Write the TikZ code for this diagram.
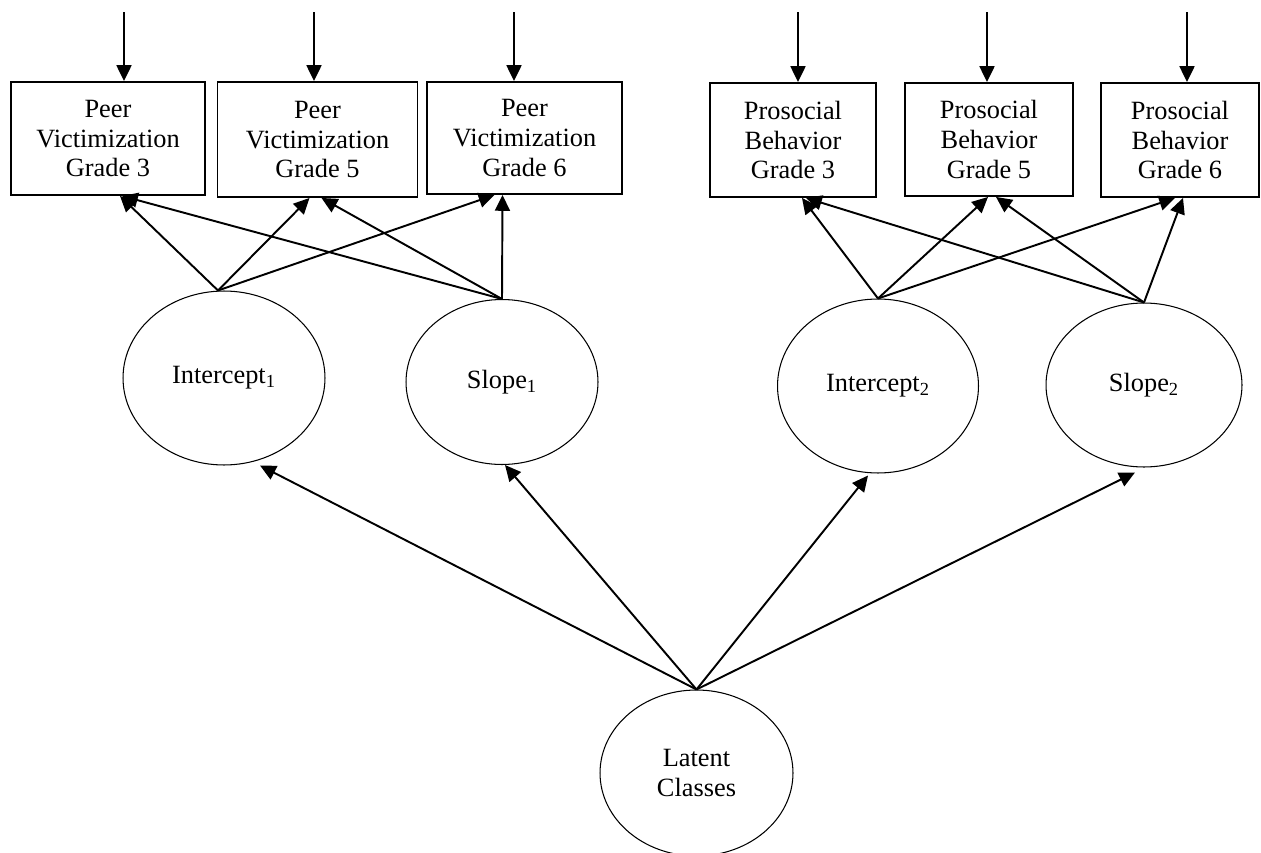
\documentclass[tikz,border=0pt]{standalone}
\usepackage{fontspec}
\setmainfont{Liberation Serif}
\usetikzlibrary{shapes.geometric,arrows.meta,calc}

\begin{document}
\begin{tikzpicture}[
    x=0.02cm, y=-0.02cm,
    font=\fontsize{15}{17}\selectfont,
    box/.style={draw, rectangle, line width=1.1pt, align=center, inner sep=0pt},
    latent/.style={draw, ellipse, line width=0.6pt, align=center, inner sep=0pt},
    arr/.style={-{Triangle[length=9pt,width=8.5pt]}, line width=1.1pt}
]
\useasboundingbox (0,0) rectangle (1261,852);

% observed measures
\node[box, minimum width=3.88cm, minimum height=2.26cm] (pv3) at (108,138.5) {Peer\\Victimization\\Grade 3};
\node[box, minimum width=4.00cm, minimum height=2.30cm] (pv5) at (317.5,139.5) {Peer\\Victimization\\Grade 5};
\node[box, minimum width=3.90cm, minimum height=2.24cm] (pv6) at (524.5,138) {Peer\\Victimization\\Grade 6};
\node[box, minimum width=3.32cm, minimum height=2.28cm] (pb3) at (793,140) {Prosocial\\Behavior\\Grade 3};
\node[box, minimum width=3.36cm, minimum height=2.26cm] (pb5) at (989,139.5) {Prosocial\\Behavior\\Grade 5};
\node[box, minimum width=3.16cm, minimum height=2.28cm] (pb6) at (1180,140) {Prosocial\\Behavior\\Grade 6};

% growth factors
\node[latent, minimum width=4.04cm, minimum height=3.48cm] (i1) at (224,378) {Intercept\textsubscript{1}};
\node[latent, minimum width=3.84cm, minimum height=3.30cm] (s1) at (502,382) {Slope\textsubscript{1}};
\node[latent, minimum width=4.02cm, minimum height=3.48cm] (i2) at (878,386) {Intercept\textsubscript{2}};
\node[latent, minimum width=3.92cm, minimum height=3.28cm] (s2) at (1144,385) {Slope\textsubscript{2}};
\node[latent, minimum width=3.86cm, minimum height=3.32cm] (lc) at (696.5,773) {Latent\\Classes};

% residual arrows
\foreach \n/\x in {pv3/124, pv5/314, pv6/514, pb3/798, pb5/987, pb6/1187} {
    \coordinate (t\n) at (\x,12);
    \draw[arr] (t\n) -- (t\n |- \n.north);
}

% loadings
\coordinate (i1top) at ($(i1.north)+(-6,0)$);
\draw[arr] (i1top) -- ($(pv3.south)+(12,0)$);
\draw[arr] (i1top) -- ($(pv5.south)+(-8,0)$);
\draw[arr] (i1top) -- ($(pv6.south)+(-30,0)$);
\draw[arr] (s1.north) -- ($(pv3.south)+(14,0)$);
\draw[arr] (s1.north) -- ($(pv5.south)+(4,0)$);
\draw[arr] (s1.north) -- ($(pv6.south)+(-22,0)$);
\draw[arr] (i2.north) -- ($(pb3.south)+(9,0)$);
\draw[arr] (i2.north) -- ($(pb5.south)+(-1,0)$);
\draw[arr] (i2.north) -- ($(pb6.south)+(-5,0)$);
\draw[arr] (s2.north) -- ($(pb3.south)+(13,0)$);
\draw[arr] (s2.north) -- ($(pb5.south)+(7,0)$);
\draw[arr] (s2.north) -- ($(pb6.south)+(3,0)$);

% class effects
\draw[arr] (lc.north) -- ($(i1.south)+(36,0)$);
\draw[arr] (lc.north) -- ($(s1.south)+(3,0)$);
\draw[arr] (lc.north) -- ($(i2.south)+(-10,2)$);
\draw[arr] (lc.north) -- ($(s2.south)+(-9,5)$);
\end{tikzpicture}
\end{document}
